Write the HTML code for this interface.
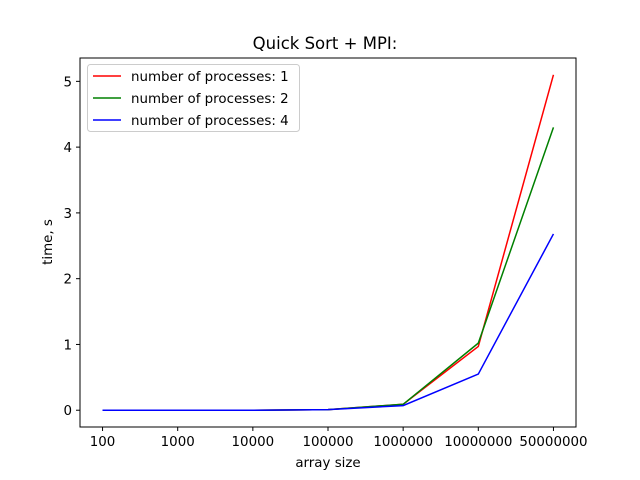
<!DOCTYPE html>
<html><head><meta charset="utf-8"><style>
body{margin:0;background:#fff}
svg{display:block;font-family:"DejaVu Sans","Liberation Sans",sans-serif}
</style></head><body>
<svg id="chart" width="640" height="480" viewBox="0 0 640 480">
<rect width="640" height="480" fill="#fff"/>
<text x="325" y="49" font-size="16.5" text-anchor="middle">Quick Sort + MPI:</text>
<g id="grid"></g>
<g id="series"></g>
<rect x="80" y="58" width="496" height="369" fill="none" stroke="#000" stroke-width="1"/>
<g id="ticks" font-size="13.4"></g>
<text x="328" y="467" font-size="13.4" text-anchor="middle">array size</text>
<text transform="translate(52,242) rotate(-90)" font-size="13.4" text-anchor="middle">time, s</text>
<g id="legend"></g>
</svg>
<script>
const categories=["100","1000","10000","100000","1000000","10000000","50000000"];
const p1=[0,0,0,0.01,0.09,0.97,5.1];
const p2=[0,0,0,0.01,0.09,1.02,4.3];
const p4=[0,0,0,0.01,0.07,0.55,2.68];
const yTicks=[0,1,2,3,4,5];
const seriesNames=["number of processes: 1","number of processes: 2","number of processes: 4"];
const colors=["#ff0000","#008000","#0000ff"];
const NS="http://www.w3.org/2000/svg";
const L=80,R=576,T=58,B=427;
const all=[...p1,...p2,...p4];
const dmin=Math.min(...all),dmax=Math.max(...all),pad=(dmax-dmin)*0.05;
const ymin=dmin-pad,ymax=dmax+pad;
const n=categories.length,xpad=(n-1)*0.05;
const xs=i=>L+(i+xpad)/((n-1)+2*xpad)*(R-L);
const ys=v=>B-(v-ymin)/(ymax-ymin)*(B-T);
function mk(tag,attrs,parent){const e=document.createElementNS(NS,tag);for(const k in attrs)e.setAttribute(k,attrs[k]);parent.appendChild(e);return e;}
const tg=document.getElementById('ticks');
categories.forEach((c,i)=>{const x=xs(i);
const t=mk('line',{x1:x,x2:x,y1:B,y2:B+4,stroke:'#000'},tg);


const tx=mk('text',{x:x,y:B+19,'text-anchor':'middle'},tg);tx.textContent=c;

});
yTicks.forEach(v=>{const y=ys(v);
const t=mk('line',{x1:L-4,x2:L,y1:y,y2:y,stroke:'#000'},tg);


const tx=mk('text',{x:L-8,y:y+5,'text-anchor':'end'},tg);tx.textContent=v;

});
const sg=document.getElementById('series');
[p1,p2,p4].forEach((d,k)=>{
const pl=mk('polyline',{points:d.map((v,i)=>xs(i)+','+ys(v)).join(' '),fill:'none',stroke:colors[k],'stroke-width':1.5},sg);

});
const lg=document.getElementById('legend');
const box=mk('rect',{x:87.5,y:64.5,width:212,height:67,rx:3,fill:'#fff','fill-opacity':0.8,stroke:'#ccc'},lg);


seriesNames.forEach((s,k)=>{const y=76+k*22;
const ln=mk('line',{x1:93,x2:121,y1:y,y2:y,stroke:colors[k],'stroke-width':1.5},lg);


const tx=mk('text',{x:131,y:y+5,'font-size':13.4},lg);tx.textContent=s;

});
</script>
</body></html>
